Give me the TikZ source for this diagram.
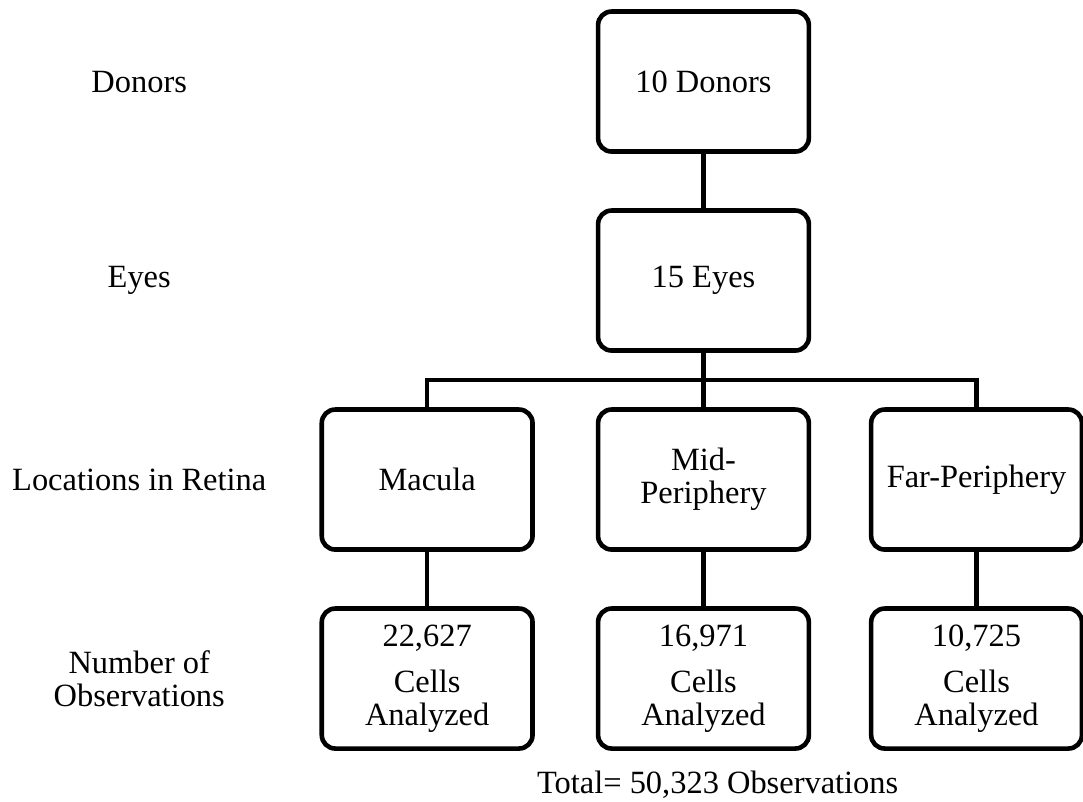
\documentclass[tikz,border=0pt]{standalone}
\usepackage{fontspec}
\setmainfont{Liberation Serif}
\usepackage{tikz}
\usetikzlibrary{positioning,calc}
\definecolor{ink}{HTML}{000000}
\tikzset{
  stage/.style={draw=ink,fill=white,line width=1.7pt,rounded corners=5pt,minimum width=2.74cm,minimum height=1.82cm,inner sep=2pt,outer sep=0pt,align=center,font=\fontsize{12}{12.2}\selectfont,text=ink},
  rowlabel/.style={align=center,font=\fontsize{12}{12.2}\selectfont,text=ink},
  link/.style={draw=ink,line width=1.7pt}
}

\begin{document}
\begin{tikzpicture}[node distance=0.767cm and 0.852cm]
    \useasboundingbox (0,0) rectangle (14.079,-10.426);
    \node[stage] (donors) at (9.145,-1.06) {10 Donors};
    \node[stage,below=of donors] (eyes) {15 Eyes};
    \node[stage,below=of eyes] (midper) {Mid-\\Periphery};
    \node[stage,left=of midper] (macula) {Macula};
    \node[stage,right=0.81cm of midper] (farper) {Far-Periphery};
    \node[stage,below=of macula] (cellsmac) {22,627\\[5pt]Cells\\Analyzed};
    \node[stage,below=of midper] (cellsmid) {16,971\\[5pt]Cells\\Analyzed};
    \node[stage,below=of farper] (cellsfar) {10,725\\[5pt]Cells\\Analyzed};

    \node[rowlabel] (lbldonors) at (1.81,0 |- donors) {Donors};
    \node[rowlabel] (lbleyes) at (1.81,0 |- eyes) {Eyes};
    \node[rowlabel] (lblloc) at (1.81,0 |- macula) {Locations in Retina};
    \node[rowlabel] (lblobs) at (1.81,0 |- cellsmac) {Number of\\Observations};
    \node[rowlabel,anchor=base] (total) at (9.33,-10.31) {Total= 50,323 Observations};

    \coordinate (split) at ($(eyes.south)!0.5!(midper.north)$);
    \draw[link] (donors) -- (eyes);
    \draw[link] (eyes) -- (midper);
    \draw[link] (macula.north) |- (split) -| (farper.north);
    \draw[link] (macula) -- (cellsmac);
    \draw[link] (midper) -- (cellsmid);
    \draw[link] (farper) -- (cellsfar);
\end{tikzpicture}
\end{document}
